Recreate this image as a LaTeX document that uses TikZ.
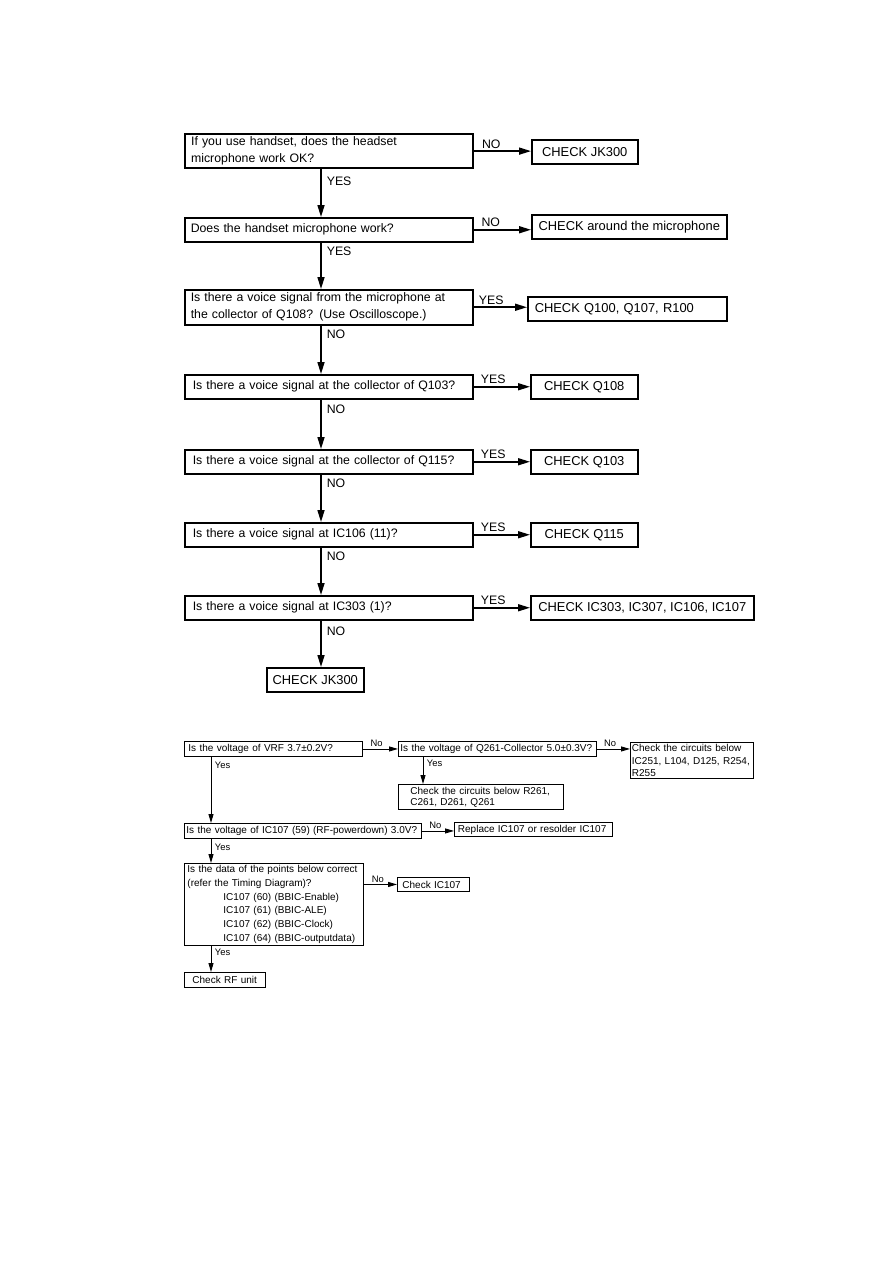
\documentclass[tikz,border=0pt]{standalone}
\usepackage{fontspec}
\setmainfont{Liberation Sans}
\usetikzlibrary{arrows.meta,positioning}
\tikzset{
  qbox/.style  ={draw, line width=1.5pt, anchor=north west, align=left,
                 inner xsep=6pt, inner ysep=0pt,
                 font=\fontsize{12.3}{17}\selectfont},
  ckbox/.style ={draw, line width=1.5pt, anchor=north west,
                 inner xsep=3pt, inner ysep=0pt, minimum height=24pt,
                 font=\fontsize{12.9}{17}\selectfont},
  sbox/.style  ={draw, line width=0.9pt, anchor=north west, align=left,
                 inner ysep=0pt, font=\fontsize{10}{12.5}\selectfont},
  arr/.style   ={-{Triangle[length=12pt,width=7pt]}, line width=1.6pt},
  sarr/.style  ={-{Triangle[length=9pt,width=5pt]}, line width=0.9pt},
  lbl/.style   ={font=\fontsize{12.3}{15}\selectfont, inner sep=2pt},
  slbl/.style  ={font=\fontsize{9.4}{11}\selectfont, inner sep=1.5pt},
}
\begin{document}
\begin{tikzpicture}[x=1pt, y=-1pt]
  \path[fill=white, use as bounding box] (0,0) rectangle (893,1263);

  % microphone check
  \coordinate (trunk) at (321,0);
  \node[qbox, line width=2.2pt, text width=276pt, minimum height=34pt] (q1) at (184,133)
    {If you use handset, does the headset\\microphone work OK?};
  \node[qbox, text width=276pt, minimum height=24pt] (q2) at (184,217)
    {Does the handset microphone work?};
  \node[qbox, text width=276pt, minimum height=35pt] (q3) at (184,289)
    {Is there a voice signal from the microphone at\\the collector of Q108? (Use Oscilloscope.)};
  \node[qbox, inner xsep=8pt, text width=272pt, minimum height=24pt] (q4) at (184,374)
    {Is there a voice signal at the collector of Q103?};
  \node[qbox, inner xsep=8pt, text width=272pt, minimum height=24pt] (q5) at (184,449)
    {Is there a voice signal at the collector of Q115?};
  \node[qbox, inner xsep=8pt, text width=272pt, minimum height=24pt] (q6) at (184,522)
    {Is there a voice signal at IC106 (11)?};
  \node[qbox, inner xsep=8pt, text width=272pt, minimum height=24pt] (q7) at (184,595)
    {Is there a voice signal at IC303 (1)?};

  \node[ckbox, minimum width=106pt] (ck1) at (531,139) {CHECK JK300};
  \node[ckbox, minimum width=195pt] (ck2) at (531,214) {CHECK around the microphone};
  \node[ckbox, align=left, inner xsep=7pt, text width=185pt] (ck3) at (527,296)
    {CHECK Q100, Q107, R100};
  \node[ckbox, minimum width=107pt] (ck4) at (530,374) {CHECK Q108};
  \node[ckbox, minimum width=107pt] (ck5) at (530,449) {CHECK Q103};
  \node[ckbox, minimum width=107pt] (ck6) at (530,522) {CHECK Q115};
  \node[ckbox, minimum width=223pt] (ck7) at (530,595) {CHECK IC303, IC307, IC106, IC107};
  \node[ckbox, minimum width=97pt] (ckend) at (266,667) {CHECK JK300};

  \draw[arr] (q1.east) -- (q1.east -| ck1.west) node[lbl, pos=0.3, above] {NO};
  \draw[arr] (q2.east) -- (q2.east -| ck2.west) node[lbl, pos=0.3, above] {NO};
  \draw[arr] (q3.east) -- (q3.east -| ck3.west) node[lbl, pos=0.33, above] {YES};
  \draw[arr] (q4.east) -- (q4.east -| ck4.west) node[lbl, pos=0.35, above] {YES};
  \draw[arr] (q5.east) -- (q5.east -| ck5.west) node[lbl, pos=0.35, above] {YES};
  \draw[arr] (q6.east) -- (q6.east -| ck6.west) node[lbl, pos=0.35, above] {YES};
  \draw[arr] (q7.east) -- (q7.east -| ck7.west) node[lbl, pos=0.35, above] {YES};

  \draw[arr] (q1.south -| trunk) -- (q2.north -| trunk) node[lbl, pos=0.26, right=3pt] {YES};
  \draw[arr] (q2.south -| trunk) -- (q3.north -| trunk) node[lbl, pos=0.19, right=3pt] {YES};
  \draw[arr] (q3.south -| trunk) -- (q4.north -| trunk) node[lbl, pos=0.18, right=3pt] {NO};
  \draw[arr] (q4.south -| trunk) -- (q5.north -| trunk) node[lbl, pos=0.2, right=3pt] {NO};
  \draw[arr] (q5.south -| trunk) -- (q6.north -| trunk) node[lbl, pos=0.18, right=3pt] {NO};
  \draw[arr] (q6.south -| trunk) -- (q7.north -| trunk) node[lbl, pos=0.18, right=3pt] {NO};
  \draw[arr] (q7.south -| trunk) -- (ckend.north -| trunk) node[lbl, pos=0.23, right=3pt] {NO};

  % RF check
  \coordinate (ltrunk) at (211,0);
  \coordinate (rtrunk) at (423,0);
  \node[sbox, inner xsep=4pt, text width=170pt, minimum height=15pt] (vrf) at (184,741)
    {Is the voltage of VRF 3.7±0.2V?};
  \node[sbox, inner xsep=2pt, text width=194pt, minimum height=15pt] (q261) at (398,741)
    {Is the voltage of Q261-Collector 5.0±0.3V?};
  \node[sbox, inner xsep=1.5pt, text width=120pt, minimum height=36pt] (chkA) at (630,742)
    {Check the circuits below\\IC251, L104, D125, R254,\\R255};
  \node[sbox, inner xsep=12pt, text width=141pt, minimum height=25pt,
        font=\fontsize{10}{11}\selectfont] (chkB) at (398,784)
    {Check the circuits below R261,\\C261, D261, Q261};
  \node[sbox, inner xsep=2pt, text width=233pt, minimum height=15pt] (ic59) at (184,823)
    {Is the voltage of IC107 (59) (RF-powerdown) 3.0V?};
  \node[sbox, inner xsep=3.5pt, text width=151pt, minimum height=14pt] (repl) at (454,822)
    {Replace IC107 or resolder IC107};
  \node[sbox, inner xsep=3pt, text width=173pt, minimum height=82pt,
        font=\fontsize{10}{13.8}\selectfont] (data) at (184,863)
    {Is the data of the points below correct\\(refer the Timing Diagram)?\\
     \hspace*{36pt}IC107 (60) (BBIC-Enable)\\
     \hspace*{36pt}IC107 (61) (BBIC-ALE)\\
     \hspace*{36pt}IC107 (62) (BBIC-Clock)\\
     \hspace*{36pt}IC107 (64) (BBIC-outputdata)};
  \node[sbox, inner xsep=5pt, text width=62pt, minimum height=14pt] (chk107) at (397,877)
    {Check IC107};
  \node[sbox, inner xsep=8pt, text width=65pt, minimum height=15pt] (rfunit) at (184,972)
    {Check RF unit};

  \draw[sarr] (vrf.east) -- (q261.west) node[slbl, pos=0.39, above] {No};
  \draw[sarr] (q261.east) -- (q261.east -| chkA.west) node[slbl, pos=0.4, above] {No};
  \draw[sarr] (q261.south -| rtrunk) -- (chkB.north -| rtrunk) node[slbl, pos=0.25, right=2pt] {Yes};
  \draw[sarr] (vrf.south -| ltrunk) -- (ic59.north -| ltrunk) node[slbl, pos=0.12, right=2pt] {Yes};
  \draw[sarr] (ic59.east) -- (ic59.east -| repl.west) node[slbl, pos=0.42, above] {No};
  \draw[sarr] (ic59.south -| ltrunk) -- (data.north -| ltrunk) node[slbl, pos=0.33, right=2pt] {Yes};
  \draw[sarr] (chk107.west -| data.east) -- (chk107.west) node[slbl, pos=0.42, above] {No};
  \draw[sarr] (data.south -| ltrunk) -- (rfunit.north -| ltrunk) node[slbl, pos=0.26, right=2pt] {Yes};
\end{tikzpicture}
\end{document}
